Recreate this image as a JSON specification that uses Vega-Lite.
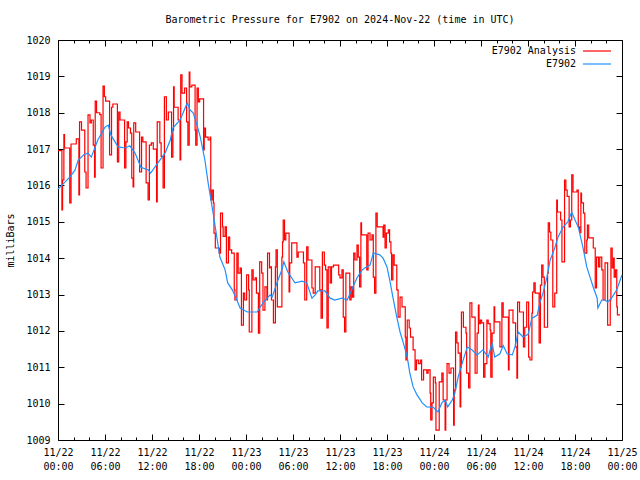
{
  "$schema": "https://vega.github.io/schema/vega-lite/v6.json",
  "width": 564,
  "height": 400,
  "autosize": {"type": "none"},
  "padding": {"left": 58, "top": 40, "right": 18, "bottom": 40},
  "background": "white",
  "title": {"text": "Barometric Pressure for E7902 on 2024-Nov-22 (time in UTC)", "font": "DejaVu Sans Mono", "fontSize": 10, "fontWeight": "normal", "color": "black", "offset": 10, "anchor": "middle"},
  "datasets": {
    "red": [
      {"t":"2024-11-22T00:00Z","p":1016.96},{"t":"2024-11-22T00:30Z","p":1015.33},{"t":"2024-11-22T00:35Z","p":1016.15},{"t":"2024-11-22T00:45Z","p":1017.4},{"t":"2024-11-22T00:50Z","p":1017.03},{"t":"2024-11-22T01:30Z","p":1015.52},{"t":"2024-11-22T01:40Z","p":1017.14},{"t":"2024-11-22T02:20Z","p":1017.28},{"t":"2024-11-22T02:40Z","p":1015.74},{"t":"2024-11-22T02:45Z","p":1017.75},{"t":"2024-11-22T03:00Z","p":1017.52},{"t":"2024-11-22T03:25Z","p":1016.37},{"t":"2024-11-22T03:35Z","p":1015.93},{"t":"2024-11-22T03:50Z","p":1017.94},{"t":"2024-11-22T04:05Z","p":1017.72},{"t":"2024-11-22T04:15Z","p":1017.8},{"t":"2024-11-22T04:30Z","p":1017.11},{"t":"2024-11-22T04:40Z","p":1016.23},{"t":"2024-11-22T04:45Z","p":1018.32},{"t":"2024-11-22T04:55Z","p":1018.0},{"t":"2024-11-22T05:20Z","p":1017.95},{"t":"2024-11-22T05:30Z","p":1016.48},{"t":"2024-11-22T05:45Z","p":1018.73},{"t":"2024-11-22T05:55Z","p":1018.44},{"t":"2024-11-22T06:05Z","p":1018.32},{"t":"2024-11-22T06:35Z","p":1016.84},{"t":"2024-11-22T06:50Z","p":1018.15},{"t":"2024-11-22T07:00Z","p":1018.24},{"t":"2024-11-22T07:35Z","p":1016.65},{"t":"2024-11-22T07:45Z","p":1018.02},{"t":"2024-11-22T07:55Z","p":1017.8},{"t":"2024-11-22T08:30Z","p":1016.48},{"t":"2024-11-22T08:40Z","p":1017.2},{"t":"2024-11-22T08:50Z","p":1017.75},{"t":"2024-11-22T09:00Z","p":1017.58},{"t":"2024-11-22T09:15Z","p":1017.44},{"t":"2024-11-22T09:25Z","p":1016.2},{"t":"2024-11-22T09:35Z","p":1015.96},{"t":"2024-11-22T09:40Z","p":1017.72},{"t":"2024-11-22T09:55Z","p":1017.47},{"t":"2024-11-22T10:25Z","p":1016.37},{"t":"2024-11-22T10:40Z","p":1017.33},{"t":"2024-11-22T10:50Z","p":1017.2},{"t":"2024-11-22T11:15Z","p":1016.07},{"t":"2024-11-22T11:30Z","p":1015.6},{"t":"2024-11-22T11:40Z","p":1017.11},{"t":"2024-11-22T11:55Z","p":1017.17},{"t":"2024-11-22T12:10Z","p":1017.0},{"t":"2024-11-22T12:35Z","p":1015.55},{"t":"2024-11-22T12:40Z","p":1017.75},{"t":"2024-11-22T13:00Z","p":1017.17},{"t":"2024-11-22T13:10Z","p":1016.8},{"t":"2024-11-22T13:25Z","p":1015.93},{"t":"2024-11-22T13:35Z","p":1018.44},{"t":"2024-11-22T13:50Z","p":1017.8},{"t":"2024-11-22T14:05Z","p":1018.02},{"t":"2024-11-22T14:30Z","p":1016.78},{"t":"2024-11-22T14:40Z","p":1017.52},{"t":"2024-11-22T14:45Z","p":1018.71},{"t":"2024-11-22T14:50Z","p":1018.15},{"t":"2024-11-22T15:20Z","p":1017.8},{"t":"2024-11-22T15:35Z","p":1016.7},{"t":"2024-11-22T15:40Z","p":1019.04},{"t":"2024-11-22T15:50Z","p":1018.54},{"t":"2024-11-22T16:10Z","p":1018.68},{"t":"2024-11-22T16:25Z","p":1017.75},{"t":"2024-11-22T16:35Z","p":1017.11},{"t":"2024-11-22T16:45Z","p":1019.12},{"t":"2024-11-22T16:50Z","p":1018.71},{"t":"2024-11-22T17:05Z","p":1018.76},{"t":"2024-11-22T17:30Z","p":1017.52},{"t":"2024-11-22T17:35Z","p":1017.11},{"t":"2024-11-22T17:45Z","p":1018.68},{"t":"2024-11-22T17:55Z","p":1018.3},{"t":"2024-11-22T18:05Z","p":1018.38},{"t":"2024-11-22T18:35Z","p":1016.98},{"t":"2024-11-22T18:40Z","p":1017.58},{"t":"2024-11-22T18:50Z","p":1017.33},{"t":"2024-11-22T19:10Z","p":1017.25},{"t":"2024-11-22T19:25Z","p":1017.33},{"t":"2024-11-22T19:30Z","p":1015.6},{"t":"2024-11-22T19:40Z","p":1015.87},{"t":"2024-11-22T19:50Z","p":1015.52},{"t":"2024-11-22T19:55Z","p":1014.69},{"t":"2024-11-22T20:05Z","p":1014.28},{"t":"2024-11-22T20:35Z","p":1014.14},{"t":"2024-11-22T20:45Z","p":1015.24},{"t":"2024-11-22T21:00Z","p":1014.86},{"t":"2024-11-22T21:05Z","p":1014.6},{"t":"2024-11-22T21:20Z","p":1014.86},{"t":"2024-11-22T21:30Z","p":1013.87},{"t":"2024-11-22T21:45Z","p":1014.58},{"t":"2024-11-22T21:55Z","p":1014.23},{"t":"2024-11-22T22:10Z","p":1014.14},{"t":"2024-11-22T22:30Z","p":1013.13},{"t":"2024-11-22T22:35Z","p":1012.85},{"t":"2024-11-22T22:50Z","p":1014.14},{"t":"2024-11-22T23:00Z","p":1013.59},{"t":"2024-11-22T23:15Z","p":1013.73},{"t":"2024-11-22T23:25Z","p":1012.16},{"t":"2024-11-22T23:40Z","p":1013.04},{"t":"2024-11-22T23:50Z","p":1012.85},
      {"t":"2024-11-23T00:05Z","p":1013.54},{"t":"2024-11-23T00:20Z","p":1013.13},{"t":"2024-11-23T00:25Z","p":1011.97},{"t":"2024-11-23T00:45Z","p":1013.68},{"t":"2024-11-23T00:55Z","p":1013.4},{"t":"2024-11-23T01:10Z","p":1013.46},{"t":"2024-11-23T01:20Z","p":1013.04},{"t":"2024-11-23T01:35Z","p":1011.94},{"t":"2024-11-23T01:45Z","p":1013.9},{"t":"2024-11-23T02:00Z","p":1013.59},{"t":"2024-11-23T02:10Z","p":1012.57},{"t":"2024-11-23T02:25Z","p":1013.21},{"t":"2024-11-23T02:40Z","p":1012.85},{"t":"2024-11-23T02:45Z","p":1014.14},{"t":"2024-11-23T03:00Z","p":1013.73},{"t":"2024-11-23T03:05Z","p":1013.76},{"t":"2024-11-23T03:15Z","p":1012.85},{"t":"2024-11-23T03:30Z","p":1012.22},{"t":"2024-11-23T03:45Z","p":1013.76},{"t":"2024-11-23T03:50Z","p":1014.23},{"t":"2024-11-23T04:00Z","p":1012.66},{"t":"2024-11-23T04:35Z","p":1014.03},{"t":"2024-11-23T04:40Z","p":1014.45},{"t":"2024-11-23T04:45Z","p":1015.05},{"t":"2024-11-23T04:55Z","p":1014.5},{"t":"2024-11-23T05:05Z","p":1014.69},{"t":"2024-11-23T05:30Z","p":1013.07},{"t":"2024-11-23T05:35Z","p":1013.87},{"t":"2024-11-23T05:50Z","p":1014.42},{"t":"2024-11-23T06:30Z","p":1014.03},{"t":"2024-11-23T06:40Z","p":1014.17},{"t":"2024-11-23T07:20Z","p":1013.87},{"t":"2024-11-23T07:30Z","p":1012.85},{"t":"2024-11-23T07:45Z","p":1014.31},{"t":"2024-11-23T07:55Z","p":1013.95},{"t":"2024-11-23T08:25Z","p":1013.18},{"t":"2024-11-23T08:35Z","p":1013.04},{"t":"2024-11-23T08:50Z","p":1013.76},{"t":"2024-11-23T09:25Z","p":1013.13},{"t":"2024-11-23T09:35Z","p":1012.35},{"t":"2024-11-23T09:45Z","p":1014.17},{"t":"2024-11-23T10:00Z","p":1013.81},{"t":"2024-11-23T10:10Z","p":1013.68},{"t":"2024-11-23T10:20Z","p":1012.08},{"t":"2024-11-23T10:30Z","p":1013.76},{"t":"2024-11-23T10:45Z","p":1013.32},{"t":"2024-11-23T10:55Z","p":1013.76},{"t":"2024-11-23T11:10Z","p":1013.81},{"t":"2024-11-23T11:50Z","p":1013.54},{"t":"2024-11-23T12:00Z","p":1013.46},{"t":"2024-11-23T12:15Z","p":1013.68},{"t":"2024-11-23T12:25Z","p":1012.38},{"t":"2024-11-23T12:35Z","p":1011.97},{"t":"2024-11-23T12:45Z","p":1013.59},{"t":"2024-11-23T13:15Z","p":1012.85},{"t":"2024-11-23T13:25Z","p":1013.21},{"t":"2024-11-23T13:35Z","p":1012.93},{"t":"2024-11-23T13:45Z","p":1014.14},{"t":"2024-11-23T13:55Z","p":1013.95},{"t":"2024-11-23T14:10Z","p":1014.36},{"t":"2024-11-23T14:20Z","p":1014.03},{"t":"2024-11-23T14:30Z","p":1013.21},{"t":"2024-11-23T14:40Z","p":1014.97},{"t":"2024-11-23T14:45Z","p":1014.64},{"t":"2024-11-23T15:25Z","p":1013.68},{"t":"2024-11-23T15:35Z","p":1014.69},{"t":"2024-11-23T15:50Z","p":1014.5},{"t":"2024-11-23T16:05Z","p":1014.64},{"t":"2024-11-23T16:15Z","p":1013.48},{"t":"2024-11-23T16:25Z","p":1013.04},{"t":"2024-11-23T16:35Z","p":1015.24},{"t":"2024-11-23T16:45Z","p":1014.86},{"t":"2024-11-23T17:30Z","p":1014.58},{"t":"2024-11-23T17:35Z","p":1014.91},{"t":"2024-11-23T17:45Z","p":1014.28},{"t":"2024-11-23T17:55Z","p":1014.69},{"t":"2024-11-23T18:10Z","p":1014.78},{"t":"2024-11-23T18:20Z","p":1014.45},{"t":"2024-11-23T18:30Z","p":1014.14},{"t":"2024-11-23T18:35Z","p":1013.4},{"t":"2024-11-23T18:45Z","p":1014.09},{"t":"2024-11-23T18:55Z","p":1013.81},{"t":"2024-11-23T19:15Z","p":1013.13},{"t":"2024-11-23T19:25Z","p":1012.38},{"t":"2024-11-23T19:40Z","p":1012.93},{"t":"2024-11-23T19:55Z","p":1012.66},{"t":"2024-11-23T20:20Z","p":1011.83},{"t":"2024-11-23T20:25Z","p":1011.2},{"t":"2024-11-23T20:35Z","p":1012.3},{"t":"2024-11-23T20:50Z","p":1012.08},{"t":"2024-11-23T21:00Z","p":1011.83},{"t":"2024-11-23T21:20Z","p":1011.48},{"t":"2024-11-23T21:35Z","p":1010.93},{"t":"2024-11-23T21:45Z","p":1011.2},{"t":"2024-11-23T22:00Z","p":1011.1},{"t":"2024-11-23T22:15Z","p":1011.2},{"t":"2024-11-23T22:25Z","p":1010.65},{"t":"2024-11-23T22:40Z","p":1010.93},{"t":"2024-11-23T23:05Z","p":1010.84},{"t":"2024-11-23T23:15Z","p":1010.93},{"t":"2024-11-23T23:30Z","p":1010.29},{"t":"2024-11-23T23:35Z","p":1009.55},{"t":"2024-11-23T23:45Z","p":1010.02},{"t":"2024-11-23T23:55Z","p":1010.73},
      {"t":"2024-11-24T00:10Z","p":1010.57},{"t":"2024-11-24T00:15Z","p":1009.27},{"t":"2024-11-24T00:40Z","p":1010.6},{"t":"2024-11-24T01:00Z","p":1010.84},{"t":"2024-11-24T01:10Z","p":1010.1},{"t":"2024-11-24T01:25Z","p":1009.27},{"t":"2024-11-24T01:30Z","p":1010.1},{"t":"2024-11-24T01:40Z","p":1011.1},{"t":"2024-11-24T01:55Z","p":1010.84},{"t":"2024-11-24T02:10Z","p":1010.98},{"t":"2024-11-24T02:30Z","p":1009.41},{"t":"2024-11-24T02:35Z","p":1010.38},{"t":"2024-11-24T02:45Z","p":1011.97},{"t":"2024-11-24T02:55Z","p":1011.67},{"t":"2024-11-24T03:05Z","p":1011.39},{"t":"2024-11-24T03:20Z","p":1009.91},{"t":"2024-11-24T03:25Z","p":1011.0},{"t":"2024-11-24T03:30Z","p":1012.52},{"t":"2024-11-24T03:45Z","p":1012.1},{"t":"2024-11-24T04:05Z","p":1011.94},{"t":"2024-11-24T04:10Z","p":1010.84},{"t":"2024-11-24T04:25Z","p":1010.43},{"t":"2024-11-24T04:35Z","p":1012.77},{"t":"2024-11-24T04:50Z","p":1012.38},{"t":"2024-11-24T05:15Z","p":1010.84},{"t":"2024-11-24T05:30Z","p":1011.94},{"t":"2024-11-24T05:40Z","p":1012.71},{"t":"2024-11-24T05:45Z","p":1012.2},{"t":"2024-11-24T05:55Z","p":1012.3},{"t":"2024-11-24T06:05Z","p":1012.22},{"t":"2024-11-24T06:20Z","p":1010.73},{"t":"2024-11-24T06:30Z","p":1011.1},{"t":"2024-11-24T06:45Z","p":1012.3},{"t":"2024-11-24T06:55Z","p":1012.2},{"t":"2024-11-24T07:10Z","p":1012.02},{"t":"2024-11-24T07:15Z","p":1010.73},{"t":"2024-11-24T07:25Z","p":1011.94},{"t":"2024-11-24T07:40Z","p":1012.66},{"t":"2024-11-24T07:45Z","p":1012.25},{"t":"2024-11-24T08:25Z","p":1011.56},{"t":"2024-11-24T08:40Z","p":1012.77},{"t":"2024-11-24T08:50Z","p":1012.38},{"t":"2024-11-24T09:30Z","p":1010.93},{"t":"2024-11-24T09:35Z","p":1012.57},{"t":"2024-11-24T10:05Z","p":1012.22},{"t":"2024-11-24T10:25Z","p":1011.56},{"t":"2024-11-24T10:35Z","p":1010.7},{"t":"2024-11-24T10:40Z","p":1012.79},{"t":"2024-11-24T10:55Z","p":1012.52},{"t":"2024-11-24T11:25Z","p":1011.56},{"t":"2024-11-24T11:35Z","p":1012.1},{"t":"2024-11-24T11:50Z","p":1012.79},{"t":"2024-11-24T12:05Z","p":1011.28},{"t":"2024-11-24T12:15Z","p":1011.2},{"t":"2024-11-24T12:30Z","p":1012.49},{"t":"2024-11-24T12:35Z","p":1013.07},{"t":"2024-11-24T12:45Z","p":1013.32},{"t":"2024-11-24T12:55Z","p":1013.04},{"t":"2024-11-24T13:25Z","p":1011.67},{"t":"2024-11-24T13:35Z","p":1013.26},{"t":"2024-11-24T13:45Z","p":1013.81},{"t":"2024-11-24T13:55Z","p":1013.48},{"t":"2024-11-24T14:05Z","p":1012.1},{"t":"2024-11-24T14:30Z","p":1013.59},{"t":"2024-11-24T14:35Z","p":1014.97},{"t":"2024-11-24T14:45Z","p":1014.72},{"t":"2024-11-24T14:55Z","p":1014.5},{"t":"2024-11-24T15:10Z","p":1012.66},{"t":"2024-11-24T15:25Z","p":1013.04},{"t":"2024-11-24T15:40Z","p":1015.6},{"t":"2024-11-24T15:45Z","p":1015.27},{"t":"2024-11-24T16:10Z","p":1015.05},{"t":"2024-11-24T16:20Z","p":1013.9},{"t":"2024-11-24T16:40Z","p":1016.15},{"t":"2024-11-24T16:50Z","p":1015.87},{"t":"2024-11-24T17:00Z","p":1015.7},{"t":"2024-11-24T17:15Z","p":1014.86},{"t":"2024-11-24T17:25Z","p":1015.05},{"t":"2024-11-24T17:35Z","p":1016.29},{"t":"2024-11-24T17:45Z","p":1015.82},{"t":"2024-11-24T18:15Z","p":1015.87},{"t":"2024-11-24T18:25Z","p":1014.86},{"t":"2024-11-24T18:35Z","p":1014.7},{"t":"2024-11-24T18:45Z","p":1015.79},{"t":"2024-11-24T18:50Z","p":1015.52},{"t":"2024-11-24T19:05Z","p":1015.24},{"t":"2024-11-24T19:15Z","p":1014.14},{"t":"2024-11-24T19:30Z","p":1014.5},{"t":"2024-11-24T19:35Z","p":1014.91},{"t":"2024-11-24T19:45Z","p":1014.56},{"t":"2024-11-24T20:20Z","p":1014.28},{"t":"2024-11-24T20:35Z","p":1013.18},{"t":"2024-11-24T20:45Z","p":1014.03},{"t":"2024-11-24T21:00Z","p":1013.76},{"t":"2024-11-24T21:10Z","p":1014.03},{"t":"2024-11-24T21:25Z","p":1013.68},{"t":"2024-11-24T21:35Z","p":1012.85},{"t":"2024-11-24T21:50Z","p":1013.87},{"t":"2024-11-24T22:10Z","p":1012.16},{"t":"2024-11-24T22:30Z","p":1012.85},{"t":"2024-11-24T22:35Z","p":1014.28},{"t":"2024-11-24T22:45Z","p":1013.73},{"t":"2024-11-24T22:55Z","p":1014.0},{"t":"2024-11-24T23:00Z","p":1013.48},{"t":"2024-11-24T23:10Z","p":1013.68},{"t":"2024-11-24T23:20Z","p":1012.66},{"t":"2024-11-24T23:25Z","p":1012.44},{"t":"2024-11-24T23:45Z","p":1012.44}
    ],
    "blue": [
      {"t":"2024-11-22T00:00Z","p":1015.9},{"t":"2024-11-22T00:55Z","p":1016.1},{"t":"2024-11-22T01:30Z","p":1016.23},{"t":"2024-11-22T02:10Z","p":1016.42},{"t":"2024-11-22T02:35Z","p":1016.7},{"t":"2024-11-22T03:20Z","p":1016.85},{"t":"2024-11-22T03:50Z","p":1016.89},{"t":"2024-11-22T04:15Z","p":1016.78},{"t":"2024-11-22T05:05Z","p":1017.25},{"t":"2024-11-22T06:00Z","p":1017.6},{"t":"2024-11-22T06:25Z","p":1017.66},{"t":"2024-11-22T06:45Z","p":1017.39},{"t":"2024-11-22T07:40Z","p":1017.06},{"t":"2024-11-22T08:35Z","p":1017.03},{"t":"2024-11-22T09:10Z","p":1017.09},{"t":"2024-11-22T09:50Z","p":1016.89},{"t":"2024-11-22T10:35Z","p":1016.5},{"t":"2024-11-22T11:30Z","p":1016.43},{"t":"2024-11-22T11:50Z","p":1016.34},{"t":"2024-11-22T12:45Z","p":1016.62},{"t":"2024-11-22T13:40Z","p":1016.89},{"t":"2024-11-22T14:20Z","p":1017.25},{"t":"2024-11-22T14:40Z","p":1017.58},{"t":"2024-11-22T15:35Z","p":1017.8},{"t":"2024-11-22T16:30Z","p":1018.27},{"t":"2024-11-22T16:50Z","p":1018.08},{"t":"2024-11-22T17:15Z","p":1018.0},{"t":"2024-11-22T17:45Z","p":1017.66},{"t":"2024-11-22T18:10Z","p":1017.33},{"t":"2024-11-22T18:30Z","p":1016.97},{"t":"2024-11-22T18:45Z","p":1016.7},{"t":"2024-11-22T19:10Z","p":1016.07},{"t":"2024-11-22T19:50Z","p":1015.2},{"t":"2024-11-22T20:20Z","p":1014.5},{"t":"2024-11-22T20:40Z","p":1014.03},{"t":"2024-11-22T21:20Z","p":1013.68},{"t":"2024-11-22T21:40Z","p":1013.32},{"t":"2024-11-22T22:15Z","p":1013.13},{"t":"2024-11-22T22:50Z","p":1012.85},{"t":"2024-11-22T23:15Z","p":1012.63},
      {"t":"2024-11-23T00:10Z","p":1012.52},{"t":"2024-11-23T01:25Z","p":1012.52},{"t":"2024-11-23T01:45Z","p":1012.63},{"t":"2024-11-23T02:10Z","p":1012.77},{"t":"2024-11-23T03:05Z","p":1012.99},{"t":"2024-11-23T03:20Z","p":1012.93},{"t":"2024-11-23T04:05Z","p":1013.4},{"t":"2024-11-23T04:35Z","p":1013.68},{"t":"2024-11-23T04:50Z","p":1013.9},{"t":"2024-11-23T05:20Z","p":1013.62},{"t":"2024-11-23T06:15Z","p":1013.32},{"t":"2024-11-23T07:10Z","p":1013.37},{"t":"2024-11-23T07:45Z","p":1013.32},{"t":"2024-11-23T08:25Z","p":1012.9},{"t":"2024-11-23T08:50Z","p":1012.99},{"t":"2024-11-23T09:10Z","p":1013.1},{"t":"2024-11-23T10:05Z","p":1013.1},{"t":"2024-11-23T10:45Z","p":1012.9},{"t":"2024-11-23T11:20Z","p":1012.85},{"t":"2024-11-23T12:15Z","p":1012.9},{"t":"2024-11-23T12:55Z","p":1012.85},{"t":"2024-11-23T13:30Z","p":1013.13},{"t":"2024-11-23T14:10Z","p":1013.46},{"t":"2024-11-23T14:50Z","p":1013.68},{"t":"2024-11-23T15:10Z","p":1013.73},{"t":"2024-11-23T15:50Z","p":1013.81},{"t":"2024-11-23T16:15Z","p":1014.14},{"t":"2024-11-23T17:05Z","p":1014.09},{"t":"2024-11-23T17:30Z","p":1014.0},{"t":"2024-11-23T18:00Z","p":1013.76},{"t":"2024-11-23T18:25Z","p":1013.32},{"t":"2024-11-23T18:45Z","p":1012.93},{"t":"2024-11-23T19:15Z","p":1012.38},{"t":"2024-11-23T19:40Z","p":1011.97},{"t":"2024-11-23T20:05Z","p":1011.67},{"t":"2024-11-23T20:35Z","p":1011.28},{"t":"2024-11-23T20:55Z","p":1010.84},{"t":"2024-11-23T21:20Z","p":1010.46},{"t":"2024-11-23T21:50Z","p":1010.24},{"t":"2024-11-23T22:30Z","p":1010.02},{"t":"2024-11-23T23:05Z","p":1009.91},{"t":"2024-11-23T23:55Z","p":1009.9},
      {"t":"2024-11-24T00:30Z","p":1009.77},{"t":"2024-11-24T01:00Z","p":1010.02},{"t":"2024-11-24T01:25Z","p":1010.1},{"t":"2024-11-24T01:45Z","p":1009.91},{"t":"2024-11-24T02:20Z","p":1010.1},{"t":"2024-11-24T02:40Z","p":1010.29},{"t":"2024-11-24T03:05Z","p":1010.73},{"t":"2024-11-24T03:35Z","p":1011.1},{"t":"2024-11-24T04:15Z","p":1011.56},{"t":"2024-11-24T04:50Z","p":1011.48},{"t":"2024-11-24T05:30Z","p":1011.34},{"t":"2024-11-24T06:15Z","p":1011.48},{"t":"2024-11-24T06:55Z","p":1011.28},{"t":"2024-11-24T07:25Z","p":1011.67},{"t":"2024-11-24T07:45Z","p":1011.28},{"t":"2024-11-24T08:25Z","p":1011.37},{"t":"2024-11-24T08:50Z","p":1011.6},{"t":"2024-11-24T09:20Z","p":1011.37},{"t":"2024-11-24T10:00Z","p":1011.34},{"t":"2024-11-24T10:20Z","p":1011.56},{"t":"2024-11-24T10:45Z","p":1011.97},{"t":"2024-11-24T11:20Z","p":1011.84},{"t":"2024-11-24T12:00Z","p":1011.9},{"t":"2024-11-24T12:30Z","p":1012.35},{"t":"2024-11-24T13:10Z","p":1012.43},{"t":"2024-11-24T13:30Z","p":1012.77},{"t":"2024-11-24T13:55Z","p":1013.04},{"t":"2024-11-24T14:25Z","p":1013.48},{"t":"2024-11-24T14:50Z","p":1013.95},{"t":"2024-11-24T15:25Z","p":1014.28},{"t":"2024-11-24T15:50Z","p":1014.58},{"t":"2024-11-24T16:30Z","p":1014.86},{"t":"2024-11-24T17:05Z","p":1015.0},{"t":"2024-11-24T17:35Z","p":1015.27},{"t":"2024-11-24T18:00Z","p":1015.05},{"t":"2024-11-24T18:25Z","p":1014.86},{"t":"2024-11-24T19:00Z","p":1014.31},{"t":"2024-11-24T19:30Z","p":1013.76},{"t":"2024-11-24T19:55Z","p":1013.48},{"t":"2024-11-24T20:20Z","p":1013.2},{"t":"2024-11-24T20:50Z","p":1012.9},{"t":"2024-11-24T20:55Z","p":1012.63},{"t":"2024-11-24T21:25Z","p":1012.85},{"t":"2024-11-24T21:50Z","p":1012.85},{"t":"2024-11-24T22:10Z","p":1012.79},{"t":"2024-11-24T22:45Z","p":1012.93},{"t":"2024-11-24T23:20Z","p":1013.13},{"t":"2024-11-25T00:00Z","p":1013.54}
    ]
  },
  "layer": [
    {
      "data": {"name": "blue"},
      "mark": {"type": "line", "opacity": 0},
      "encoding": {
        "x": {"field": "t", "type": "temporal",
          "scale": {"type": "utc", "domain": [1732233600000, 1732492800000], "nice": false},
          "axis": {"orient": "bottom", "title": null, "labels": false, "tickSize": -3,
            "values": [1732240800000,1732248000000,1732262400000,1732269600000,1732284000000,1732291200000,1732305600000,1732312800000,1732327200000,1732334400000,1732348800000,1732356000000,1732370400000,1732377600000,1732392000000,1732399200000,1732413600000,1732420800000,1732435200000,1732442400000,1732456800000,1732464000000,1732478400000,1732485600000]}},
        "y": {"field": "p", "type": "quantitative", "scale": {"domain": [1009, 1020], "zero": false, "nice": false}, "axis": null}
      }
    },
    {
      "data": {"name": "blue"},
      "mark": {"type": "line", "opacity": 0},
      "encoding": {
        "x": {"field": "t", "type": "temporal",
          "axis": {"orient": "top", "title": null, "labels": false, "tickSize": -3,
            "values": [1732240800000,1732248000000,1732262400000,1732269600000,1732284000000,1732291200000,1732305600000,1732312800000,1732327200000,1732334400000,1732348800000,1732356000000,1732370400000,1732377600000,1732392000000,1732399200000,1732413600000,1732420800000,1732435200000,1732442400000,1732456800000,1732464000000,1732478400000,1732485600000]}},
        "y": {"field": "p", "type": "quantitative", "axis": null}
      }
    },
    {
      "data": {"name": "red"},
      "mark": {"type": "line", "interpolate": "step-after", "strokeWidth": 1.2},
      "encoding": {
        "x": {"field": "t", "type": "temporal",
          "axis": {"orient": "bottom", "title": null, "tickSize": -6,
            "values": [1732233600000,1732255200000,1732276800000,1732298400000,1732320000000,1732341600000,1732363200000,1732384800000,1732406400000,1732428000000,1732449600000,1732471200000,1732492800000],
            "labelExpr": "[utcFormat(datum.value, '%m/%d'), utcFormat(datum.value, '%H:%M')]",
            "labelPadding": 13, "labelLineHeight": 14, "labelBaseline": "top", "labelFlush": false, "labelOverlap": false}},
        "y": {"field": "p", "type": "quantitative",
          "axis": {"orient": "left", "title": "milliBars", "format": "d", "values": [1009,1010,1011,1012,1013,1014,1015,1016,1017,1018,1019,1020], "tickSize": -6, "labelPadding": 14, "titlePadding": 10}},
        "color": {"datum": "E7902 Analysis", "type": "nominal",
          "scale": {"domain": ["E7902 Analysis", "E7902"], "range": ["#ff0000", "#1e90ff"]},
          "legend": {"title": null, "orient": "none", "legendX": 532, "legendY": 4, "symbolType": "M-2.33,0H2.33", "symbolSize": 144, "symbolStrokeWidth": 1.2, "labelAlign": "right", "labelOffset": -28, "rowPadding": 1, "labelFont": "DejaVu Sans Mono", "labelFontSize": 10, "labelColor": "black"}}
      }
    },
    {
      "data": {"name": "blue"},
      "mark": {"type": "line", "strokeWidth": 1.2},
      "encoding": {
        "x": {"field": "t", "type": "temporal",
          "axis": {"orient": "top", "title": null, "labels": false, "tickSize": -6,
            "values": [1732233600000,1732255200000,1732276800000,1732298400000,1732320000000,1732341600000,1732363200000,1732384800000,1732406400000,1732428000000,1732449600000,1732471200000,1732492800000]}},
        "y": {"field": "p", "type": "quantitative",
          "axis": {"orient": "right", "title": null, "labels": false, "values": [1009,1010,1011,1012,1013,1014,1015,1016,1017,1018,1019,1020], "tickSize": -6}},
        "color": {"datum": "E7902", "type": "nominal"}
      }
    }
  ],
  "resolve": {"axis": {"x": "independent", "y": "independent"}},
  "config": {
    "view": {"stroke": "black", "strokeWidth": 1},
    "axis": {"labelFont": "DejaVu Sans Mono", "labelFontSize": 10, "labelColor": "black", "titleFont": "DejaVu Sans Mono", "titleFontSize": 10, "titleFontWeight": "normal", "titleColor": "black", "domain": false, "grid": false, "tickColor": "black", "tickWidth": 1}
  }
}
